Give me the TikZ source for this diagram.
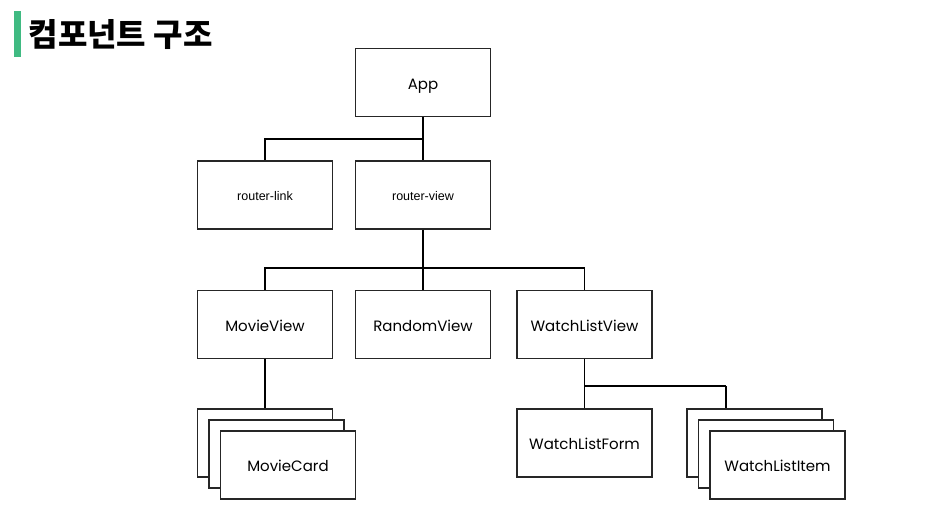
\documentclass[tikz,border=0pt]{standalone}
\usepackage{fontspec}
\setmainfont{Poppins}
\newfontfamily\arialfont{Liberation Sans}
\newfontfamily\krfont{Noto Sans CJK KR}
\definecolor{titlegreen}{RGB}{64,186,130}
\begin{document}
\begin{tikzpicture}[x=1pt, y=-1pt, line width=1.2pt]

\tikzstyle{every node} = [rectangle, draw=black!85, fill=white, minimum width=135pt, minimum height=68pt, inner sep=0pt, text height=13pt, text depth=0pt, font=\fontsize{15}{18}\selectfont]
\tikzstyle{arialnode} = [text height=10pt, font=\arialfont\fontsize{12.5}{15}\selectfont]

\useasboundingbox (0,0) rectangle (925,512);

% title
\fill[titlegreen] (14,11) rectangle (21,57);
\node[draw=none, fill=none, minimum width=0pt, minimum height=0pt, anchor=west,
      text height=, text depth=,
      font=\krfont\bfseries\fontsize{32}{36}\selectfont] (title) at (28,34.5) {컴포넌트 구조};

\node (app) at (423,82.5) {App};

\node[arialnode] (rlink) at (265,195) {router-link};
\node[arialnode] (rview) at (423,195) {router-view};

\node (mview) at (265,324.5) {MovieView};
\node (rndview) at (423,324.5) {RandomView};
\node (wlview) at (584.5,324.5) {WatchListView};

\node (mcard3) at (265,443) {};
\node (mcard2) at (276.5,454) {};
\node (mcard1) at (288,465) {MovieCard};

\node (wlform) at (584.5,443) {WatchListForm};

\node (witem3) at (754.5,443) {};
\node (witem2) at (766,454) {};
\node (witem1) at (777.5,465) {WatchListItem};

\coordinate (j1) at (423,139);
\coordinate (j2) at (423,268);
\coordinate (j3) at (584.5,386);
\coordinate (j4) at (726,386);

\draw[-] (app) -- (j1);
\draw[-] (j1) -| (rlink);
\draw[-] (j1) -- (rview);
\draw[-] (rview) -- (j2);
\draw[-] (j2) -| (mview);
\draw[-] (j2) -- (rndview);
\draw[-] (j2) -| (wlview);
\draw[-] (mview) -- (mcard3);
\draw[-] (wlview) -- (j3);
\draw[-] (j3) -- (wlform);
\draw[-] (j3) -- (j4);
\draw[-] (j4) -- (j4 |- witem3.north);
\end{tikzpicture}
\end{document}
